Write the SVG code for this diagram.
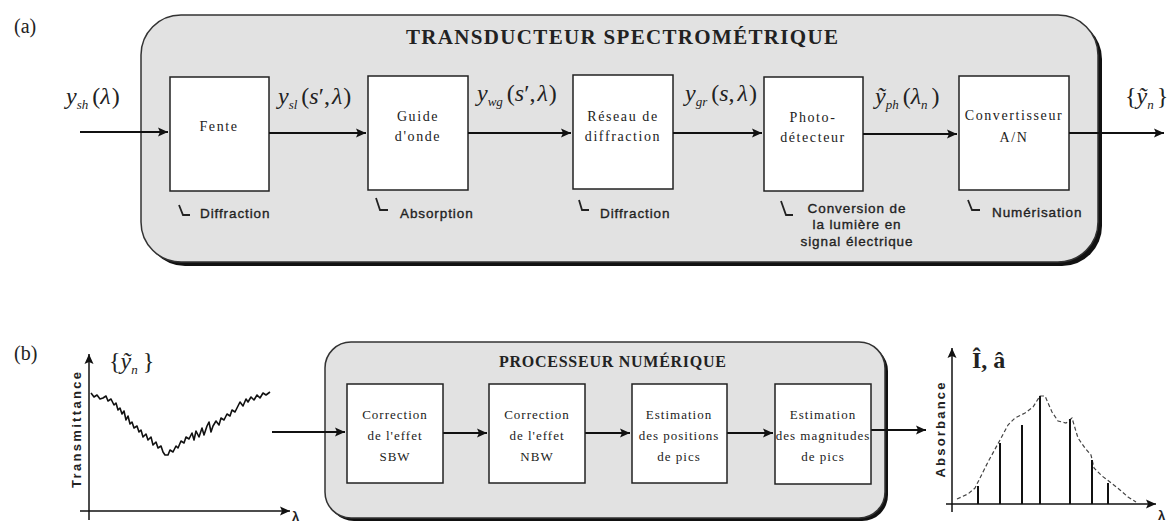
<svg xmlns="http://www.w3.org/2000/svg" width="1172" height="523" viewBox="0 0 1172 523">
<style>
.panel{fill:#e2e2e2;stroke:#333;stroke-width:1.5}
.shadow{fill:#111}
.box{fill:#fff;stroke:#222;stroke-width:1.5}
.ln{stroke:#111;stroke-width:1.8;fill:none}
.lbl{font-family:"Liberation Serif",serif;font-size:14px;fill:#222;text-anchor:middle;letter-spacing:1.6px}
.lblb{font-family:"Liberation Serif",serif;font-size:13px;fill:#222;text-anchor:middle;letter-spacing:1px}
.ann{font-family:"Liberation Sans",sans-serif;font-size:13.5px;fill:#222;stroke:#222;stroke-width:0.35px;letter-spacing:0.9px}
.title{font-family:"Liberation Serif",serif;font-weight:bold;fill:#222}
.m{font-family:"Liberation Serif",serif;font-size:24px;fill:#222}
.i{font-style:italic}
.sub{font-family:"Liberation Serif",serif;font-style:italic;font-size:13px}
.tag{font-family:"Liberation Serif",serif;font-size:20px;fill:#222}
.axl{font-family:"Liberation Sans",sans-serif;font-weight:bold;font-size:13px;fill:#222}
.tick{stroke:#222;stroke-width:1.8;fill:none}
</style>
<defs>
<marker id="ah" viewBox="0 0 10 10" refX="10" refY="5" markerWidth="10" markerHeight="10" markerUnits="userSpaceOnUse" orient="auto">
<path d="M0,0.5 L10,5 L0,9.5 L2,5 Z" fill="#111"/>
</marker>
</defs>

<text class="tag" x="14" y="33">(a)</text>
<text class="tag" x="14" y="360">(b)</text>

<g id="panel-a">
<rect class="shadow" x="145" y="19" width="957" height="247" rx="40"/>
<rect class="panel" x="141" y="15" width="957" height="247" rx="40"/>
<text class="title" x="406" y="44" font-size="21" textLength="432" lengthAdjust="spacing">TRANSDUCTEUR SPECTROMÉTRIQUE</text>
</g>

<g id="panel-b">
<rect class="shadow" x="328" y="345" width="560" height="176" rx="26"/>
<rect class="panel" x="325" y="342" width="560" height="176" rx="26"/>
<text class="title" x="499" y="367" font-size="16" textLength="227" lengthAdjust="spacing">PROCESSEUR NUMÉRIQUE</text>
</g>

<g id="fente">
<rect class="box" x="170" y="77" width="99" height="114"/>
<text class="lbl" x="219" y="131">Fente</text>
<path class="tick" d="M179,205 L183,215 L190,215"/>
<text class="ann" x="200" y="218">Diffraction</text>
</g>

<g id="guide">
<rect class="box" x="368" y="76" width="100" height="114"/>
<text class="lbl" x="418" y="121">Guide</text>
<text class="lbl" x="418" y="141">d'onde</text>
<path class="tick" d="M376,198 L380,210 L388,210"/>
<text class="ann" x="400" y="218">Absorption</text>
</g>

<g id="reseau">
<rect class="box" x="573" y="75" width="100" height="114"/>
<text class="lbl" x="623" y="121">Réseau de</text>
<text class="lbl" x="623" y="141">diffraction</text>
<path class="tick" d="M579,200 L582,210 L589,210"/>
<text class="ann" x="600" y="218">Diffraction</text>
</g>

<g id="photo">
<rect class="box" x="764" y="77" width="99" height="114"/>
<text class="lbl" x="813" y="122">Photo-</text>
<text class="lbl" x="813" y="142">détecteur</text>
<path class="tick" d="M781,201 L786,215 L793,215"/>
<text class="ann" x="857" y="213" text-anchor="middle">Conversion de</text>
<text class="ann" x="857" y="229" text-anchor="middle">la lumière en</text>
<text class="ann" x="857" y="246" text-anchor="middle">signal électrique</text>
</g>

<g id="convertisseur">
<rect class="box" x="959" y="76" width="110" height="114"/>
<text class="lbl" x="1014" y="120" letter-spacing="1">Convertisseur</text>
<text class="lbl" x="1014" y="142">A/N</text>
<path class="tick" d="M968,200 L972,210 L980,210"/>
<text class="ann" x="992" y="217">Numérisation</text>
</g>

<g id="connectors">
<line class="ln" x1="80" y1="132" x2="168" y2="132" marker-end="url(#ah)"/>
<line class="ln" x1="269" y1="133" x2="366" y2="133" marker-end="url(#ah)"/>
<line class="ln" x1="468" y1="133" x2="571" y2="133" marker-end="url(#ah)"/>
<line class="ln" x1="673" y1="133" x2="762" y2="133" marker-end="url(#ah)"/>
<line class="ln" x1="863" y1="134" x2="957" y2="134" marker-end="url(#ah)"/>
<line class="ln" x1="1069" y1="133" x2="1164" y2="133" marker-end="url(#ah)"/>
<line class="ln" x1="272" y1="432" x2="345" y2="432" marker-end="url(#ah)"/>
<line class="ln" x1="443" y1="433" x2="487" y2="433" marker-end="url(#ah)"/>
<line class="ln" x1="585" y1="433" x2="630" y2="433" marker-end="url(#ah)"/>
<line class="ln" x1="727" y1="433" x2="773" y2="433" marker-end="url(#ah)"/>
<line class="ln" x1="871" y1="430" x2="926" y2="430" marker-end="url(#ah)"/>
</g>

<g id="signal-labels">
<text class="m" x="66" y="104"><tspan class="i">y</tspan><tspan class="sub" dy="5">sh</tspan><tspan dy="-5" dx="4">(</tspan><tspan class="i">λ</tspan><tspan dx="1">)</tspan></text>
<text class="m" x="278" y="104"><tspan class="i">y</tspan><tspan class="sub" dy="5">sl</tspan><tspan dy="-5" dx="4">(</tspan><tspan class="i">s</tspan><tspan>′,</tspan><tspan class="i" dx="2">λ</tspan><tspan dx="1">)</tspan></text>
<text class="m" x="477" y="101"><tspan class="i">y</tspan><tspan class="sub" dy="5">wg</tspan><tspan dy="-5" dx="4">(</tspan><tspan class="i">s</tspan><tspan>′,</tspan><tspan class="i" dx="2">λ</tspan><tspan dx="1">)</tspan></text>
<text class="m" x="685" y="101"><tspan class="i">y</tspan><tspan class="sub" dy="5">gr</tspan><tspan dy="-5" dx="4">(</tspan><tspan class="i">s</tspan><tspan>,</tspan><tspan class="i" dx="3">λ</tspan><tspan dx="1">)</tspan></text>
<text class="m" x="875" y="104"><tspan class="i">ỹ</tspan><tspan class="sub" dy="5">ph</tspan><tspan dy="-5" dx="4">(</tspan><tspan class="i">λ</tspan><tspan class="sub" dy="5">n</tspan><tspan dy="-5" dx="4">)</tspan></text>
<text class="m" x="1125" y="104" font-size="23"><tspan>{</tspan><tspan class="i">ỹ</tspan><tspan class="sub" dy="5">n</tspan><tspan dy="-5" dx="3">}</tspan></text>
</g>

<g id="sbw">
<rect class="box" x="347" y="384" width="96" height="99"/>
<text class="lblb" x="395" y="419">Correction</text>
<text class="lblb" x="395" y="440">de l'effet</text>
<text class="lblb" x="395" y="461">SBW</text>
</g>
<g id="nbw">
<rect class="box" x="489" y="384" width="96" height="99"/>
<text class="lblb" x="537" y="419">Correction</text>
<text class="lblb" x="537" y="440">de l'effet</text>
<text class="lblb" x="537" y="461">NBW</text>
</g>
<g id="positions">
<rect class="box" x="632" y="384" width="95" height="99"/>
<text class="lblb" x="679" y="419">Estimation</text>
<text class="lblb" x="679" y="440">des positions</text>
<text class="lblb" x="679" y="461">de pics</text>
</g>
<g id="magnitudes">
<rect class="box" x="775" y="384" width="96" height="100"/>
<text class="lblb" x="823" y="419">Estimation</text>
<text class="lblb" x="823" y="440">des magnitudes</text>
<text class="lblb" x="823" y="461">de pics</text>
</g>

<g id="chart-transmittance">
<line class="ln" x1="89" y1="520" x2="89" y2="354" marker-end="url(#ah)" style="stroke-width:1.5"/>
<line class="ln" x1="80" y1="511" x2="290" y2="511" marker-end="url(#ah)" style="stroke-width:1.5"/>
<text class="axl" transform="translate(81,430) rotate(-90)" text-anchor="middle" textLength="116" lengthAdjust="spacing">Transmittance</text>
<text class="axl" x="292" y="521" font-size="12">λ</text>
<text class="m" x="109" y="369" font-size="22"><tspan>{</tspan><tspan class="i">ỹ</tspan><tspan class="sub" dy="5">n</tspan><tspan dy="-5" dx="5">}</tspan></text>
<polyline class="ln" style="stroke-width:1.6;stroke-linejoin:round" points="91,393 94,397 97,395 100,399 103,398 106,396 108,401 111,399 114,405 116,403 118,410 120,408 122,414 124,411 126,420 128,416 130,424 132,422 134,428 137,426 139,432 141,430 143,437 146,434 148,440 151,437 153,445 156,442 158,448 161,446 163,452 165,455 168,455 170,450 173,452 176,446 178,448 181,441 184,443 186,437 189,439 192,433 194,440 196,431 199,437 202,428 204,435 207,426 209,422 211,432 213,426 216,421 219,425 221,418 224,420 227,414 230,416 232,410 235,412 238,406 240,402 243,406 246,399 248,402 251,397 254,400 257,395 260,398 263,393 266,395 270,392"/>
</g>

<g id="chart-absorbance">
<line class="ln" x1="952" y1="512" x2="952" y2="348" marker-end="url(#ah)" style="stroke-width:1.5"/>
<line class="ln" x1="946" y1="504" x2="1156" y2="504" marker-end="url(#ah)" style="stroke-width:1.5"/>
<text class="axl" transform="translate(945,430) rotate(-90)" text-anchor="middle" textLength="95" lengthAdjust="spacing">Absorbance</text>
<text class="axl" x="1158" y="520" font-size="12">λ</text>
<text class="m" x="972" y="368" font-weight="bold" font-size="19">Î, â</text>
<path d="M957,499 L968,494 L975,488 L980,478 L988,462 L1000,440 L1008,425 L1015,418 L1025,413 L1033,407 L1040,396 L1045,396 L1052,412 L1058,421 L1066,423 L1072,418 L1078,438 L1085,448 L1091,455 L1094,468 L1102,476 L1110,482 L1120,490 L1128,497 L1136,502" fill="none" stroke="#444" stroke-width="1.2" stroke-dasharray="4,2.5"/>
<g stroke="#111" stroke-width="2">
<line x1="978" y1="504" x2="978" y2="486"/>
<line x1="1000" y1="504" x2="1000" y2="443"/>
<line x1="1022" y1="504" x2="1022" y2="425"/>
<line x1="1040" y1="504" x2="1040" y2="396"/>
<line x1="1070" y1="504" x2="1070" y2="419"/>
<line x1="1092" y1="504" x2="1092" y2="460"/>
<line x1="1108" y1="504" x2="1108" y2="483"/>
</g>
</g>
</svg>
